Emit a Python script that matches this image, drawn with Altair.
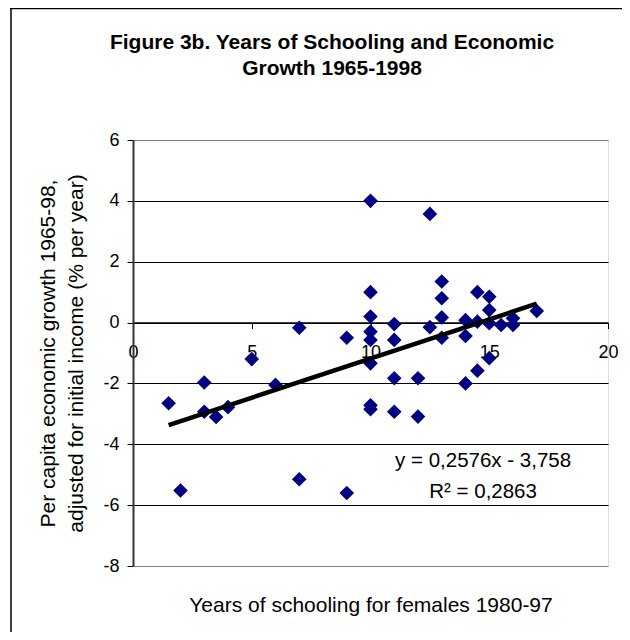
import altair as alt
import pandas as pd

# ---- data ----
x_years = [1.5, 2, 3, 3, 3.5, 4, 5, 6, 7, 7, 9, 9,
           10, 10, 10, 10, 10, 10, 10, 10,
           11, 11, 11, 11, 12, 12, 12.5, 12.5,
           13, 13, 13, 13, 14, 14, 14, 14.5, 14.5, 14.5,
           15, 15, 15, 15, 15.5, 16, 16, 17]
y_growth = [-2.65, -5.52, -1.97, -2.93, -3.1, -2.78, -1.2, -2.05, -0.17, -5.15, -0.5, -5.6,
            4.0, 1.0, 0.2, -0.3, -0.57, -1.34, -2.72, -2.85,
            -0.05, -0.57, -1.83, -2.93, -1.83, -3.09, 3.57, -0.15,
            1.35, 0.8, 0.17, -0.5, 0.08, -0.44, -2.0, 1.0, 0.03, -1.58,
            0.85, 0.41, -0.02, -1.17, -0.08, 0.14, -0.08, 0.38]

trend_x = [1.5, 17.0]
trend_y = [-3.37, 0.62]

eq_lines = ["y = 0,2576x - 3,758", "R² = 0,2863"]
eq_x = [14.74, 14.74]
eq_y = [-4.745, -5.764]

x_ticks = [0, 5, 10, 15, 20]
y_ticks = [-8, -6, -4, -2, 0, 2, 4, 6]

title_lines = ["Figure 3b. Years of Schooling and Economic", "Growth 1965-1998"]
x_title = "Years of schooling for females 1980-97"
y_title = ["Per capita economic growth 1965-98,", "adjusted for initial income (% per year)"]

FONT = "Liberation Sans"

pts = pd.DataFrame({"x": x_years, "y": y_growth})
trend = pd.DataFrame({"x": trend_x, "y": trend_y})
eq = pd.DataFrame({"label": eq_lines, "x": eq_x, "y": eq_y})
single = pd.DataFrame({"k": [0]})

W, H = 475, 426
xscale = alt.Scale(domain=[0, 20], nice=False, zero=False)
yscale = alt.Scale(domain=[-8, 6], nice=False, zero=False)

zero_offset = H - H * 6 / 14  # distance from bottom to the y=0 line

xaxis = alt.Axis(values=x_ticks, title=x_title, offset=-zero_offset, grid=False,
                 domainColor="black", domainWidth=1.5, tickColor="black", tickSize=6,
                 labelFontSize=18, labelPadding=15, labelFont=FONT, labelColor="black",
                 labelFlush=False, labelExpr="datum.value + ''",
                 titleFontSize=21, titleFontWeight="normal", titleFont=FONT, titleColor="black",
                 titleY=zero_offset + 45, titleBaseline="alphabetic")

yaxis = alt.Axis(values=y_ticks, title=y_title, grid=True,
                 gridColor={"condition": {"test": "datum.value == 6 || datum.value == -8",
                                          "value": "#808080"}, "value": "black"},
                 gridWidth=1,
                 domainColor="#333333", domainWidth=2, tickColor="black", tickSize=6,
                 labelFontSize=18, labelPadding=8, labelFont=FONT, labelColor="black",
                 labelExpr="datum.value + ''",
                 titleFontSize=21, titleFontWeight="normal", titleFont=FONT, titleColor="black",
                 titlePadding=16, titleLineHeight=28)

frame_left = alt.Chart(single).mark_rule(color="black", strokeWidth=1.5).encode(
    x=alt.value(-122), y=alt.value(-132.25), y2=alt.value(H + 120))
frame_top = alt.Chart(single).mark_rule(color="black", strokeWidth=1.5).encode(
    x=alt.value(-122.75), x2=alt.value(W + 60), y=alt.value(-131.5))

title = alt.Chart(single).mark_text(text=title_lines, font=FONT, fontSize=21, fontWeight="bold",
                                    color="black", align="center", baseline="alphabetic",
                                    lineHeight=26).encode(
    x=alt.value(199), y=alt.value(-91))

points = alt.Chart(pts).mark_point(shape="diamond", filled=True, size=215,
                                   color="#000080", opacity=1).encode(
    x=alt.X("x:Q", scale=xscale, axis=xaxis),
    y=alt.Y("y:Q", scale=yscale, axis=yaxis))

line = alt.Chart(trend).mark_line(color="black", strokeWidth=4.5).encode(
    x=alt.X("x:Q", scale=xscale), y=alt.Y("y:Q", scale=yscale))

text = alt.Chart(eq).mark_text(fontSize=20.5, font=FONT, color="black",
                               baseline="alphabetic").encode(
    x=alt.X("x:Q", scale=xscale), y=alt.Y("y:Q", scale=yscale), text="label:N")

chart = alt.layer(frame_left, frame_top, title, points, line, text).properties(
    width=W, height=H,
    autosize=alt.AutoSizeParams(type="none"),
    padding={"left": 125, "top": 132, "right": 14, "bottom": 66},
).configure_view(stroke="#808080", strokeWidth=2.5).configure(background="white")

chart.save("out.html", embed_options={"renderer": "svg", "actions": False})
